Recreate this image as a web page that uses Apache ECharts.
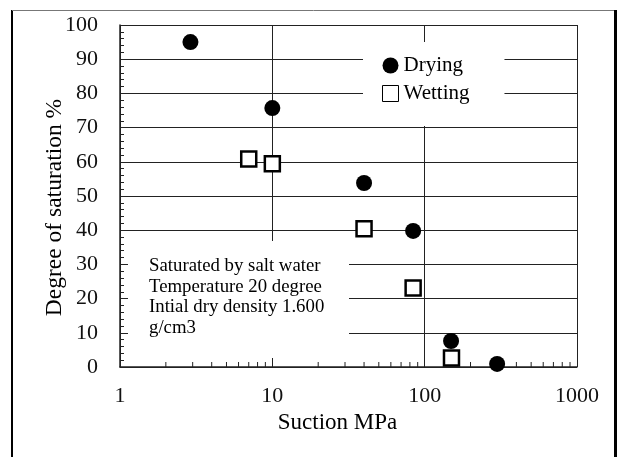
<!DOCTYPE html>
<html>
<head>
<meta charset="utf-8">
<script src="https://cdn.jsdelivr.net/npm/echarts@6/dist/echarts.min.js"></script>
<style>html,body{margin:0;padding:0;background:#fff;}#c{width:618px;height:457px;}</style>
</head>
<body>
<div id="c"></div>
<script>
const dryingSuction = [2.9, 10, 40, 84, 149, 299];
const dryingSaturation = [95, 75.7, 53.8, 39.8, 7.6, 0.9];
const wettingSuction = [7, 10, 40, 84, 150];
const wettingSaturation = [60.8, 59.4, 40.4, 23.1, 2.6];
const xMinorTicks = [2,3,4,5,6,7,8,9,20,30,40,50,60,70,80,90,200,300,400,500,600,700,800,900];
const seriesNames = ['Drying', 'Wetting'];
const xAxisTitle = 'Suction MPa';
const yAxisTitle = 'Degree of saturation %';
const annotationLines = ['Saturated by salt water', 'Temperature 20 degree', 'Intial dry density 1.600', 'g/cm3'];

const FONT = '"Liberation Serif", "Times New Roman", serif';
const chart = echarts.init(document.getElementById('c'), null, {renderer: 'canvas'});

const option = {
  animation: false,
  backgroundColor: '#fff',
  grid: {left: 120, top: 25, right: 41, bottom: 90, containLabel: false},
  xAxis: {
    type: 'log', logBase: 10, min: 1, max: 1000,
    name: xAxisTitle, nameLocation: 'middle', nameGap: 44, nameMoveOverlap: false,
    nameTextStyle: {fontFamily: FONT, fontSize: 23, color: '#000', padding: [0, 22, 0, 0]},
    axisLine: {show: true, lineStyle: {color: '#222', width: 1.5}},
    axisTick: {show: true, inside: true, length: 12, lineStyle: {color: '#222', width: 1}},
    axisLabel: {fontFamily: FONT, fontSize: 22, color: '#111', margin: 18,
      formatter: v => String(Math.round(v))},
    splitLine: {show: true, lineStyle: {color: '#222', width: 1}}
  },
  yAxis: {
    type: 'value', min: 0, max: 100, interval: 10,
    name: yAxisTitle, nameLocation: 'middle', nameGap: 53, nameMoveOverlap: false,
    nameTextStyle: {fontFamily: FONT, fontSize: 23.5, color: '#000', padding: [0, 23, 0, 0]},
    axisLine: {show: true, lineStyle: {color: '#222', width: 1.5}},
    axisTick: {show: true, inside: true, length: 7, lineStyle: {color: '#222', width: 1}},
    minorTick: {show: true, splitNumber: 5, length: 4, lineStyle: {color: '#222', width: 1}},
    axisLabel: {fontFamily: FONT, fontSize: 22, color: '#111', margin: 22},
    splitLine: {show: true, lineStyle: {color: '#222', width: 1}}
  },
  legend: {
    orient: 'vertical', left: 363, top: 42,
    padding: [13, 35, 22, 19],
    backgroundColor: '#fff',
    itemWidth: 16, itemHeight: 16, itemGap: 7,
    textStyle: {fontFamily: FONT, fontSize: 21, color: '#000'},
    data: [
      {name: seriesNames[0], icon: 'circle', itemStyle: {color: '#000', borderWidth: 0, opacity: 1}},
      {name: seriesNames[1], icon: 'rect', itemStyle: {color: '#fff', borderColor: '#000', borderWidth: 1, opacity: 1}}
    ]
  },
  graphic: [
    {type: 'line', z: 100, shape: {x1: 12, y1: 10, x2: 12, y2: 460}, style: {stroke: '#000', lineWidth: 2}},
    {type: 'line', z: 100, shape: {x1: 12, y1: 10.5, x2: 615, y2: 10.5}, style: {stroke: '#777', lineWidth: 1}},
    {type: 'line', z: 100, shape: {x1: 615.5, y1: 10, x2: 615.5, y2: 460}, style: {stroke: '#000', lineWidth: 3}},
    {type: 'rect', z: 5, shape: {x: 128, y: 241, width: 221, height: 117}, style: {fill: '#fff'}},
    {type: 'text', z: 6, left: 149, top: 256,
      style: {text: annotationLines.join('\n'), fontFamily: FONT, fontSize: 18.8, lineHeight: 20.5, fill: '#000'}}
  ],
  series: [
    {
      name: seriesNames[0], type: 'scatter', z: 10,
      symbol: 'circle', symbolSize: 16,
      itemStyle: {color: '#000', opacity: 1},
      data: dryingSuction.map((x, i) => [x, dryingSaturation[i]])
    },
    {
      name: seriesNames[1], type: 'scatter', z: 10,
      symbol: 'rect', symbolSize: 15,
      itemStyle: {color: '#fff', borderColor: '#000', borderWidth: 2.5, opacity: 1},
      data: wettingSuction.map((x, i) => [x, wettingSaturation[i]])
    },
    {
      name: 'minorTicks', type: 'custom', silent: true, z: 3,
      data: xMinorTicks.map(v => [v, 0]),
      renderItem: (params, api) => {
        const c = api.coord([api.value(0), 0]);
        return {type: 'line', shape: {x1: c[0], y1: c[1], x2: c[0], y2: c[1] - 5},
          style: {stroke: '#222', lineWidth: 1}};
      }
    }
  ]
};
chart.setOption(option);
</script>
</body>
</html>
